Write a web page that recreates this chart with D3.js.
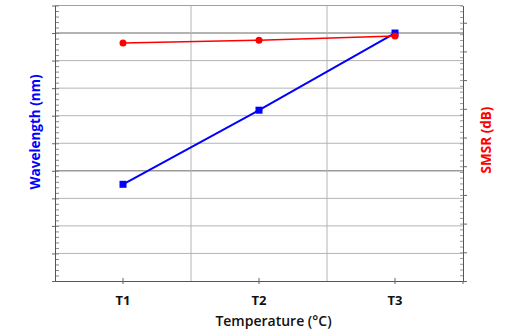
<!DOCTYPE html>
<html><head><meta charset="utf-8">
<script src="https://cdn.jsdelivr.net/npm/d3@7"></script>
<style>html,body{margin:0;padding:0;background:#fff;}svg{display:block;}</style>
</head><body>
<svg id="c" width="514" height="332"></svg>
<script>
const categories = ["T1", "T2", "T3"];
const wavelength = [3.51, 6.2, 9.0];
const smsr = [8.29, 8.39, 8.54];
const leftMajor = d3.range(0, 11, 1);
const rightMajor = d3.range(0, 10, 1);

const svg = d3.select("#c");
const L = 55, R = 463, T = 5.5, B = 281;
const x = d3.scaleBand().domain(categories).range([L, R]).padding(0);
const yL = d3.scaleLinear().domain([0, 10]).range([B, T]);
const yR = d3.scaleLinear().domain([0, 9.6]).range([B, T]);
const cx = c => x(c) + x.bandwidth() / 2;

// gridlines
svg.append("g").selectAll("line").data(leftMajor.filter(v => v > 0 && v < 10)).join("line")
  .attr("x1", L).attr("x2", R).attr("y1", d => yL(d)).attr("y2", d => yL(d))
  .attr("stroke", d => (d === 9 || d === 4) ? "#9a9a9a" : "#b4b4b4")
  .attr("stroke-width", d => (d === 9 || d === 4) ? 1.6 : 1);
svg.append("g").selectAll("line").data(categories.slice(1)).join("line")
  .attr("x1", d => x(d)).attr("x2", d => x(d)).attr("y1", T).attr("y2", B)
  .attr("stroke", "#b4b4b4");
// top border
svg.append("line").attr("x1", L).attr("x2", R).attr("y1", T).attr("y2", T).attr("stroke", "#a0a0a0");

const styleAxis = g => { g.select(".domain").attr("stroke", "#555"); g.selectAll(".tick line").attr("stroke", "#666"); };

// left axis
svg.append("g").attr("transform", `translate(${L},0)`)
  .call(d3.axisRight(yL).tickValues(d3.range(0, 10.01, 0.2)).tickSize(4).tickSizeOuter(0).tickFormat(""))
  .call(styleAxis).call(g => g.selectAll(".tick line").attr("stroke", "#888"));
svg.append("g").attr("transform", `translate(${L},0)`)
  .call(d3.axisLeft(yL).tickValues(leftMajor).tickSize(3).tickSizeOuter(0).tickFormat(""))
  .call(styleAxis);

// right axis
svg.append("g").attr("transform", `translate(${R},0)`)
  .call(d3.axisLeft(yR).tickValues(d3.range(0, 9.61, 0.2)).tickSize(3).tickSizeOuter(0).tickFormat(""))
  .call(styleAxis).call(g => g.selectAll(".tick line").attr("stroke", "#999"));
svg.append("g").attr("transform", `translate(${R},0)`)
  .call(d3.axisRight(yR).tickValues(rightMajor).tickSize(4).tickSizeOuter(0).tickFormat(""))
  .call(styleAxis);

// bottom axis
svg.append("g").attr("transform", `translate(0,${B})`)
  .call(d3.axisTop(x).tickSize(3).tickSizeOuter(0).tickFormat(""))
  .call(styleAxis);
svg.append("g").attr("transform", `translate(0,${B})`)
  .call(d3.axisBottom(x).tickSize(3).tickSizeOuter(0).tickPadding(12))
  .call(styleAxis)
  .call(g => g.selectAll("text").attr("font-family", "Open Sans").attr("font-weight", "bold")
    .attr("font-size", 13).attr("fill", "#111"));
svg.append("line").attr("x1", R).attr("x2", R).attr("y1", B).attr("y2", B + 3).attr("stroke", "#666");

// series
const line = d3.line();
svg.append("path").attr("d", line(categories.map((c, i) => [cx(c), yL(wavelength[i])])))
  .attr("fill", "none").attr("stroke", "#0000ff").attr("stroke-width", 2);
svg.append("g").selectAll("rect").data(categories).join("rect")
  .attr("x", (c) => cx(c) - 3.5).attr("y", (c, i) => yL(wavelength[i]) - 3.5)
  .attr("width", 7).attr("height", 7).attr("fill", "#0000ff");
svg.append("path").attr("d", line(categories.map((c, i) => [cx(c), yR(smsr[i])])))
  .attr("fill", "none").attr("stroke", "#ff0000").attr("stroke-width", 1.5);
svg.append("g").selectAll("circle").data(categories).join("circle")
  .attr("cx", c => cx(c)).attr("cy", (c, i) => yR(smsr[i])).attr("r", 3.5).attr("fill", "#ff0000");

// titles
svg.append("text").attr("transform", "translate(40,132) rotate(-90)").attr("text-anchor", "middle")
  .attr("font-family", "Open Sans").attr("font-weight", "bold").attr("font-size", 13.5)
  .attr("fill", "#0000ff").text("Wavelength (nm)");
svg.append("text").attr("transform", "translate(491,140) rotate(-90)").attr("text-anchor", "middle")
  .attr("font-family", "Open Sans").attr("font-weight", "bold").attr("font-size", 13.5)
  .attr("fill", "#ff0000").text("SMSR (dB)");
svg.append("text").attr("x", 273.5).attr("y", 326).attr("text-anchor", "middle")
  .attr("font-family", "Open Sans").attr("font-weight", "600").attr("font-size", 14)
  .attr("fill", "#111").text("Temperature (°C)");
</script>
</body></html>
